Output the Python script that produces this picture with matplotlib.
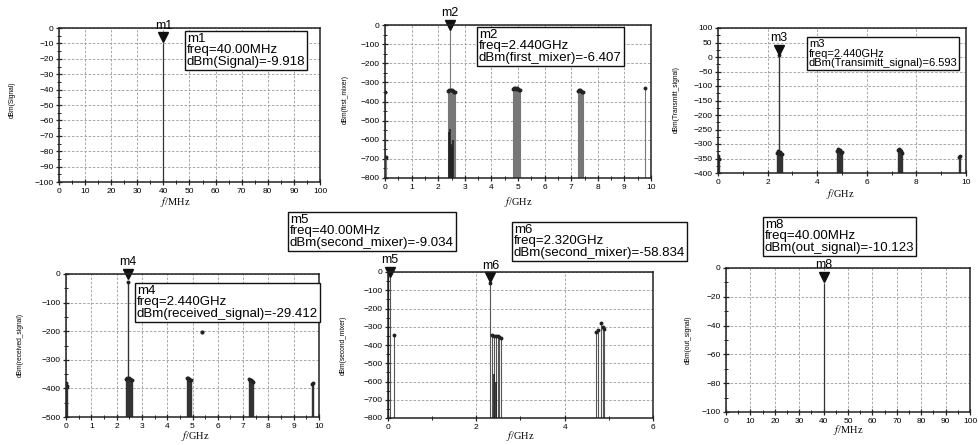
import matplotlib.pyplot as plt
from matplotlib.ticker import MultipleLocator

plt.rcParams['font.family'] = ['Liberation Sans', 'DejaVu Sans']
plt.rcParams['mathtext.fontset'] = 'stix'

W, H = 979, 445

# panel 1: Signal (MHz)
sig_freq = [40]
sig_dbm = [-9.918]

# panel 2: first_mixer (GHz)
fm_freq = [0.00, 0.04, 2.36, 2.40, 2.44, 2.48, 2.52, 2.56, 2.60, 2.64,
           4.80, 4.84, 4.88, 4.92, 4.96, 5.00, 5.04, 5.08,
           7.24, 7.28, 7.32, 7.36, 7.40, 7.44, 9.76]
fm_dbm = [-350, -690, -345, -340, -6.407, -338, -342, -345, -350, -348,
          -335, -332, -330, -335, -332, -336, -340, -338,
          -345, -342, -340, -345, -350, -352, -330]
fm_low_freq = [2.40, 2.44, 2.48, 2.52, 2.56]
fm_low_dbm = [-560, -545, -620, -640, -600]

# panel 3: Transmitt_signal (GHz)
tx_freq = [0.00, 0.04, 2.36, 2.40, 2.44, 2.48, 2.52, 2.56, 2.60,
           4.80, 4.84, 4.88, 4.92, 4.96, 5.00, 7.24, 7.28, 7.32, 7.36, 7.40, 9.72, 9.76]
tx_dbm = [-340, -350, -330, -325, 6.593, -328, -332, -335, -333,
          -325, -318, -320, -322, -330, -328, -322, -318, -320, -325, -330, -345, -340]

# panel 4: received_signal (GHz)
rx_freq = [0.00, 0.04, 2.36, 2.40, 2.44, 2.48, 2.52, 2.56, 2.60,
           4.80, 4.84, 4.88, 4.92, 4.96, 7.24, 7.28, 7.32, 7.36, 7.40, 9.72, 9.76]
rx_dbm = [-380, -390, -368, -365, -29.412, -364, -366, -372, -370,
          -362, -365, -368, -370, -372, -368, -370, -372, -375, -378, -385, -380]
rx_dot = (5.36, -203)

# panel 5: second_mixer (GHz)
sm_freq = [0.04, 0.14, 2.32, 2.36, 2.40, 2.44, 2.48, 2.52, 2.56,
           4.72, 4.76, 4.82, 4.86, 4.90]
sm_dbm = [-9.034, -345, -58.834, -345, -350, -348, -352, -355, -360,
          -330, -320, -280, -300, -310]
sm_low_freq = [2.40, 2.44]
sm_low_dbm = [-560, -600]

# panel 6: out_signal (MHz)
out_freq = [40]
out_dbm = [-10.123]

LINE = '#333333'


def px_rect(l, t, r, b):
    return [l / W, 1 - b / H, (r - l) / W, (b - t) / H]


def fpt(x, y):
    return x / W, 1 - y / H


def panel(fig, rect, xlim, ylim, xmaj, xmin, ymaj, ymin):
    ax = fig.add_axes(px_rect(*rect))
    ax.set_xlim(*xlim)
    ax.set_ylim(*ylim)
    ax.xaxis.set_major_locator(MultipleLocator(xmaj))
    ax.xaxis.set_minor_locator(MultipleLocator(xmin))
    ax.yaxis.set_major_locator(MultipleLocator(ymaj))
    ax.yaxis.set_minor_locator(MultipleLocator(ymin))
    ax.grid(True, which='major', ls=(0, (3, 2)), color='#9a9a9a', lw=0.6)
    ax.tick_params(which='major', direction='inout', length=5, width=0.9,
                   labelsize=6, color='#222222', pad=1.5)
    ax.tick_params(which='minor', direction='inout', length=3, width=0.7, color='#222222')
    for s in ax.spines.values():
        s.set_color('#222222')
        s.set_linewidth(1.1)
    return ax


def stems(ax, f, v, bottom, lw=0.9, color=LINE, dots=True):
    ax.vlines(f, bottom, v, color=color, lw=lw)
    if dots:
        ax.plot(f, v, 'o', ms=1.8, color='#222222', ls='none')


def marker(ax, name, x, y):
    ax.plot([x], [y], marker='v', ms=7, color='#111111', ls='none', clip_on=False)
    ax.annotate(name, (x, y), xytext=(0, 4), textcoords='offset points',
                ha='center', va='bottom', fontsize=9, annotation_clip=False)


def box(fig, x, y, lines, fs=9.5, ls=0.92):
    fig.text(*fpt(x, y), '\n'.join(lines), ha='left', va='top', fontsize=fs,
             linespacing=ls,
             bbox=dict(boxstyle='square,pad=0.15', fc='white', ec='#111111', lw=1.0))


def labels(fig, xl, xpos, yl, ypos):
    fig.text(*fpt(*xpos), xl, ha='center', va='center', fontsize=7.5,
             family='Liberation Serif')
    fig.text(*fpt(*ypos), yl, ha='center', va='center', fontsize=4.8, rotation=90)


fig = plt.figure(figsize=(W / 100, H / 100), dpi=100)

# panel 1
ax1 = panel(fig, (59, 28, 320, 182), (0, 100), (-100, 0), 10, 5, 10, 5)
stems(ax1, sig_freq, sig_dbm, -100, dots=False)
marker(ax1, 'm1', sig_freq[0], sig_dbm[0] + 4)
box(fig, 187, 33, ['m1', 'freq=40.00MHz', 'dBm(Signal)=-9.918'])
labels(fig, r'$f$/MHz', (175, 202), 'dBm(Signal)', (12, 100))

# panel 2
ax2 = panel(fig, (385, 25, 651, 178), (0, 10), (-800, 0), 1, 0.5, 100, 50)
stems(ax2, fm_freq, fm_dbm, -800, lw=0.8, color='#777777')
stems(ax2, fm_low_freq, fm_low_dbm, -800, lw=1.2, color='#222222', dots=False)
marker(ax2, 'm2', 2.44, 0)
box(fig, 479, 29, ['m2', 'freq=2.440GHz', 'dBm(first_mixer)=-6.407'])
labels(fig, r'$f$/GHz', (518, 202), 'dBm(first_mixer)', (345, 100))

# panel 3
ax3 = panel(fig, (718, 28, 966, 173), (0, 10), (-400, 100), 2, 1, 50, 25)
stems(ax3, tx_freq, tx_dbm, -400, lw=1.0, color='#333333')
marker(ax3, 'm3', 2.44, tx_dbm[tx_freq.index(2.44)] + 18)
box(fig, 809, 39, ['m3', 'freq=2.440GHz', 'dBm(Transimitt_signal)=6.593'], fs=8, ls=0.95)
labels(fig, r'$f$/GHz', (840, 194), 'dBm(Transmitt_signal)', (676, 100))

# panel 4
ax4 = panel(fig, (66, 274, 319, 417), (0, 10), (-500, 0), 1, 0.5, 100, 50)
stems(ax4, rx_freq, rx_dbm, -500, lw=1.0, color='#333333')
ax4.plot(*rx_dot, 'o', ms=2, color='#222222')
marker(ax4, 'm4', 2.44, 0)
box(fig, 137, 285, ['m4', 'freq=2.440GHz', 'dBm(received_signal)=-29.412'])
labels(fig, r'$f$/GHz', (195, 436), 'dBm(received_signal)', (20, 345))

# panel 5
ax5 = panel(fig, (388, 272, 653, 418), (0, 6), (-800, 0), 2, 1, 100, 50)
stems(ax5, sm_freq, sm_dbm, -800, lw=0.8, color='#555555')
stems(ax5, sm_low_freq, sm_low_dbm, -800, lw=1.2, color='#222222', dots=False)
ax5.axvline(0.0, color='#111111', lw=1.6)
marker(ax5, 'm5', 0.04, 0)
marker(ax5, 'm6', 2.32, -30)
box(fig, 290, 214, ['m5', 'freq=40.00MHz', 'dBm(second_mixer)=-9.034'])
box(fig, 514, 224, ['m6', 'freq=2.320GHz', 'dBm(second_mixer)=-58.834'])
labels(fig, r'$f$/GHz', (520, 436), 'dBm(second_mixer)', (343, 345))

# panel 6
ax6 = panel(fig, (726, 268, 970, 412), (0, 100), (-100, 0), 10, 5, 20, 10)
stems(ax6, out_freq, out_dbm, -100, dots=False)
marker(ax6, 'm8', out_freq[0], out_dbm[0] + 4)
box(fig, 765, 219, ['m8', 'freq=40.00MHz', 'dBm(out_signal)=-10.123'])
labels(fig, r'$f$/MHz', (848, 430), 'dBm(out_signal)', (688, 340))

fig.savefig('out.png', dpi=100)
